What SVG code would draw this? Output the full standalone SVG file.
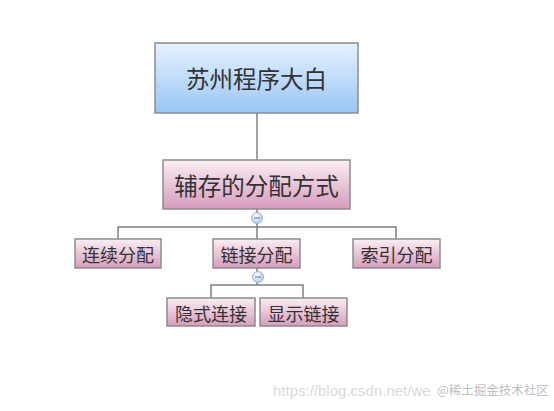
<svg xmlns="http://www.w3.org/2000/svg" width="554" height="411" viewBox="0 0 554 411">
<defs>
<linearGradient id="gBlue" x1="0" y1="0" x2="0" y2="1">
<stop offset="0" stop-color="#e6f2ff"/>
<stop offset="1" stop-color="#99c6f4"/>
</linearGradient>
<linearGradient id="gPink" x1="0" y1="0" x2="0" y2="1">
<stop offset="0" stop-color="#fbeef4"/>
<stop offset="1" stop-color="#d69cbc"/>
</linearGradient>
<radialGradient id="gDot" cx="0.4" cy="0.35" r="0.7">
<stop offset="0" stop-color="#ffffff"/>
<stop offset="1" stop-color="#a9c8ee"/>
</radialGradient>
</defs>
<style>
.box{stroke:#8c8c8c;stroke-width:1.5}
.blue{fill:url(#gBlue)}
.pink{fill:url(#gPink)}
.t{font-family:"Noto Sans CJK SC","Noto Sans",sans-serif;fill:#333333;text-anchor:middle;dominant-baseline:central}
.ln{fill:none;stroke:#808080;stroke-width:1.5}
.dot{fill:url(#gDot);stroke:#9ab4d8;stroke-width:1}
.minus{stroke:#5a6f90;stroke-width:1}
</style>
<rect width="554" height="411" fill="#ffffff"/>
<g id="connectors">
<path class="ln" d="M257 113 V160"/>
<path class="ln" d="M257 209 V227 M118 239 V227 H396 V239 M257 227 V239"/>
<path class="ln" d="M257 268 V285 M211 298 V285 H303 V298"/>
<circle class="dot" cx="257" cy="218" r="5.5"/>
<path class="minus" d="M254 218 H260"/>
<circle class="dot" cx="258" cy="277" r="5.5"/>
<path class="minus" d="M255 277 H261"/>
</g>
<g id="n-root">
<rect class="box blue" x="155" y="43" width="203" height="70"/>
<text class="t" x="256.5" y="78" font-size="23.5">苏州程序大白</text>
</g>
<g id="n-fuchun">
<rect class="box pink" x="163" y="160" width="187" height="49"/>
<text class="t" x="256.5" y="185" font-size="23.5">辅存的分配方式</text>
</g>
<g id="n-lianxu">
<rect class="box pink" x="75" y="239" width="86" height="29"/>
<text class="t" x="118" y="254" font-size="18">连续分配</text>
</g>
<g id="n-lianjie">
<rect class="box pink" x="213" y="239" width="87" height="29"/>
<text class="t" x="256.5" y="254" font-size="18">链接分配</text>
</g>
<g id="n-suoyin">
<rect class="box pink" x="353" y="239" width="87" height="29"/>
<text class="t" x="396.5" y="254" font-size="18">索引分配</text>
</g>
<g id="n-yinshi">
<rect class="box pink" x="167" y="298" width="88" height="28"/>
<text class="t" x="211" y="312.5" font-size="18">隐式连接</text>
</g>
<g id="n-xianshi">
<rect class="box pink" x="260" y="298" width="87" height="28"/>
<text class="t" x="303.5" y="312.5" font-size="18">显示链接</text>
</g>
<g id="watermark">
<text x="273" y="396" font-family="Liberation Sans,sans-serif" font-size="15" fill="#dadada">https://blog.csdn.net/we</text>
<rect x="435" y="383" width="110" height="18" fill="#ffffff"/>
<text x="437" y="395" font-family="Noto Sans CJK SC,sans-serif" font-size="12.5" fill="#c0c0c0">@稀土掘金技术社区</text>
</g>
</svg>
